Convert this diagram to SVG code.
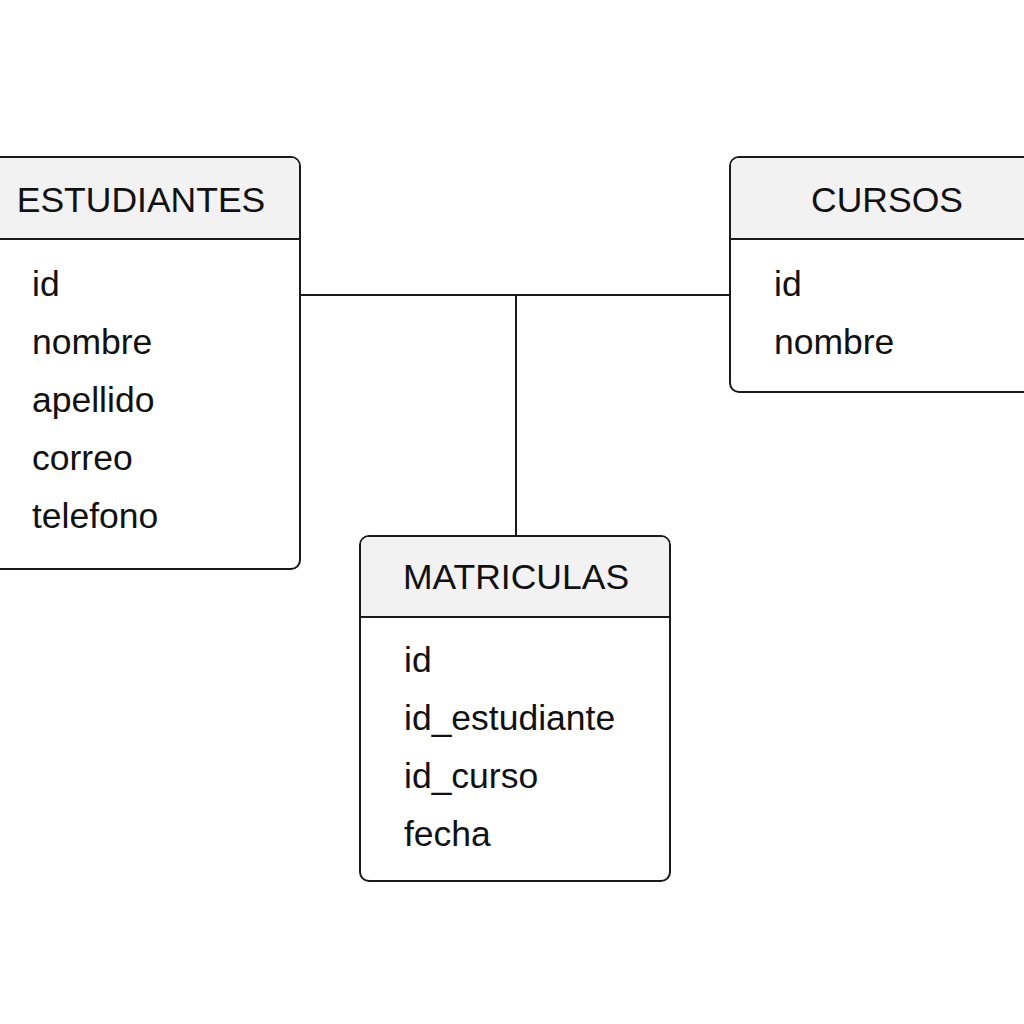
<svg xmlns="http://www.w3.org/2000/svg" width="1024" height="1024" viewBox="0 0 1024 1024">
<style>
.box{fill:#ffffff;stroke:#1a1a1a;stroke-width:2}
.hdr{fill:#f2f2f2}
.sep{stroke:#1a1a1a;stroke-width:2}
.title{font-family:"Liberation Sans",Arial,sans-serif;font-size:35.5px;fill:#111;text-anchor:middle}
.field{font-family:"Liberation Sans",Arial,sans-serif;font-size:35.5px;fill:#111}
.conn{stroke:#1a1a1a;stroke-width:2;fill:none}
</style>
<rect width="1024" height="1024" fill="#ffffff"/>
<g id="connectors">
<line class="conn" x1="300" y1="295" x2="730" y2="295"/>
<line class="conn" x1="516" y1="295" x2="516" y2="536"/>
</g>
<g id="estudiantes">
<rect class="box" x="-20" y="157" width="320" height="412" rx="9"/>
<path class="hdr" d="M-19 158 H291 a8 8 0 0 1 8 8 V238 H-19 Z"/>
<line class="sep" x1="-20" y1="239" x2="300" y2="239"/>
<text class="title" x="141" y="212">ESTUDIANTES</text>
<text class="field" x="32" y="296">id</text>
<text class="field" x="32" y="354">nombre</text>
<text class="field" x="32" y="412">apellido</text>
<text class="field" x="32" y="470">correo</text>
<text class="field" x="32" y="528">telefono</text>
</g>
<g id="cursos">
<rect class="box" x="730" y="157" width="320" height="235" rx="9"/>
<path class="hdr" d="M1049 158 H739 a8 8 0 0 0 -8 8 V238 H1049 Z"/>
<line class="sep" x1="730" y1="239" x2="1050" y2="239"/>
<text class="title" x="887" y="212">CURSOS</text>
<text class="field" x="774" y="296">id</text>
<text class="field" x="774" y="354">nombre</text>
</g>
<g id="matriculas">
<rect class="box" x="360" y="536" width="310" height="345" rx="9"/>
<path class="hdr" d="M369 537 H661 a8 8 0 0 1 8 8 V616 H361 V545 a8 8 0 0 1 8 -8 Z"/>
<line class="sep" x1="360" y1="617" x2="670" y2="617"/>
<text class="title" x="516" y="589">MATRICULAS</text>
<text class="field" x="404" y="672">id</text>
<text class="field" x="404" y="730">id_estudiante</text>
<text class="field" x="404" y="788">id_curso</text>
<text class="field" x="404" y="846">fecha</text>
</g>
</svg>
